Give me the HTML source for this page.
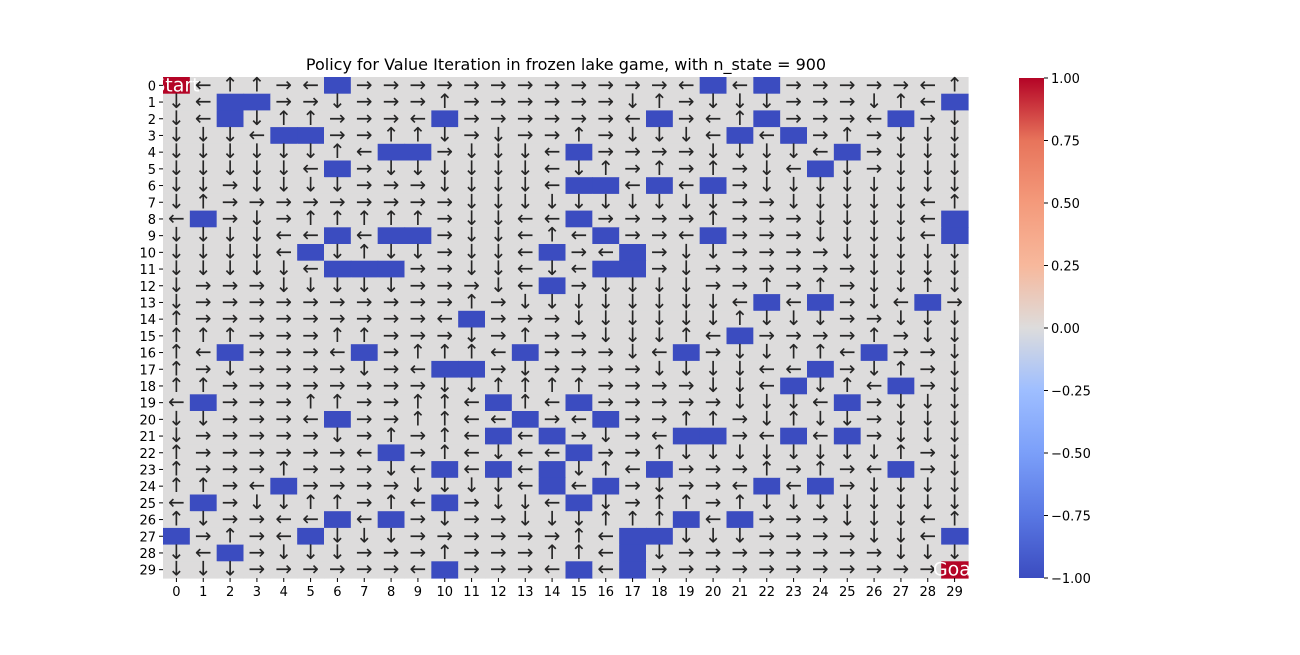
<!DOCTYPE html>
<html><head><meta charset="utf-8"><style>
body{margin:0;background:#fff;font-family:"Liberation Sans","DejaVu Sans",sans-serif;}
svg text{font-family:"DejaVu Sans","Liberation Sans",sans-serif;}
</style></head><body>
<svg id="chart" width="1300" height="650" xmlns="http://www.w3.org/2000/svg">
<defs><linearGradient id="cw" x1="0" y1="1" x2="0" y2="0">
<stop offset="0" stop-color="#3b4cc0"/><stop offset="0.125" stop-color="#5977e3"/><stop offset="0.25" stop-color="#7b9ff9"/><stop offset="0.375" stop-color="#9ebeff"/><stop offset="0.5" stop-color="#dddcdc"/><stop offset="0.625" stop-color="#f7b89c"/><stop offset="0.75" stop-color="#f49a7b"/><stop offset="0.875" stop-color="#e7745b"/><stop offset="1" stop-color="#b40426"/></linearGradient></defs>
<text x="566" y="70" font-size="16" text-anchor="middle" fill="#000">Policy for Value Iteration in frozen lake game, with n_state = 900</text>
<g id="cells"></g><g id="ticks"></g>
<rect x="1019" y="78" width="25" height="500" fill="url(#cw)"/>
<g id="cbticks"></g>
</svg>
<script>
const rows = [
"SLUURLHRRRRRRRRRRRRLHLHRRRRRLU",
"DLHHRRDRRRURRRRRRDURDDDRRRDULH",
"DLHDUURRRLHRRRRRRLHRLUHRRRLHRD",
"DDDLHHRRUUDRDRRURDDDLHLHRURDDD",
"DDDDDDULHHRDDDLHRRRRDDDDLHRDDD",
"DDDDDLHRDDDDDDLDURURURDLHDRDDD",
"DDRDDDDRRRDDDDLHHLHLHRDDDDDDDD",
"DURRRRRRRRRDDDDDDDDDDRRDDDDDLU",
"LHRDRUUUUURDDLLHRRRRURRRDDDDLH",
"DDDDLLHLHHRDDLULHRRLHRRRDDDDLH",
"DDDDLHDUDDRDDLHRLHRDDRRRRDDDDD",
"DDDDDLHHHRRDDLDLHHRDRRRRRRDDDD",
"DRRRDDDDDRRRDLHRDDDDRRURURDDUD",
"DRRRRRRRRRRURDDDDDDDDLHLHRDLHR",
"URRRRRRRRRLHRRRDDDDDDUDDDRRDDD",
"UUURRRUURRRDRURRDDDULHRRRRURDD",
"ULHRRRLHRUUULHRRRDLHRDDUULHRRD",
"URDRRRRDRLHHRDRRRRDDDDLLHRDURD",
"UURRRRRRRRDDUUUURRRRDDLHDULHRD",
"LHRRRUURRUULHULHRRRRRDDDLHRDDD",
"DDRRRLHRRUULLHRLHRRUURDUDDRDDD",
"DRRRRRDRURULHLHRDRLHHRLHLHRDDD",
"URRRRRRLHRULDLLHRRUDDDDDDDDURD",
"URRRURRRDLHLHLHDULHRRRURURLHRD",
"UURLHRRRRDDDDLHLHRDRRLHLHRDDDD",
"LHRDDUURULHRDDLHDRUURUDDDDDDDD",
"UDRRLLHLHRDRRDDDUUUHLHRRRDDDLU",
"HRURLHDDDRRRRRRULHHDDDRRRRDDLH",
"DLHRDDDRRRURRRUULHDRRRRRRRRDDD",
"DDDRRRRRRLHRRRLHLHRRRRRRRRRRRG"];
const xTicks=[...Array(30).keys()];
const cbTicks=[1.0,0.75,0.5,0.25,0,-0.25,-0.5,-0.75,-1.0];
const X0=163,Y0=77,W=805,H=501,n=30;
const cw=W/n,ch=H/n;
const xs=c=>X0+c*cw, ys=r=>Y0+r*ch;
const cbY=v=>78+(1-v)/2*500;
const NS="http://www.w3.org/2000/svg";
const g=document.getElementById('cells'),tg=document.getElementById('ticks'),cg=document.getElementById('cbticks');
function mk(t,a,p){const e=document.createElementNS(NS,t);for(const k in a)e.setAttribute(k,a[k]);p.appendChild(e);return e;}
const glyph={L:"←",R:"→",U:"↑",D:"↓"};
rows.forEach((row,r)=>{[...row].forEach((ch0,c)=>{
 let fill="#dddcdc";if(ch0==="H")fill="#3b4cc0";if(ch0==="S"||ch0==="G")fill="#b40426";
 const rc=mk('rect',{x:xs(c),y:ys(r),width:cw+0.6,height:ch+0.6,fill:fill},g);
 
 
});});
rows.forEach((row,r)=>{[...row].forEach((ch0,c)=>{
 const cx=xs(c)+cw/2,cy=ys(r)+ch/2;
 if(glyph[ch0]){const t=mk('text',{x:cx,y:cy+6,'font-size':20,'text-anchor':'middle',fill:'#262626'},g);t.textContent=glyph[ch0];
 
 }
 if(ch0==="S"||ch0==="G"){const t=mk('text',{x:cx,y:cy+6,'font-size':19,'text-anchor':'middle',fill:'#fff'},g);t.textContent=ch0==="S"?"Start":"Goal";
 
 }
});});
xTicks.forEach(i=>{
 mk('line',{x1:xs(i)+cw/2,x2:xs(i)+cw/2,y1:Y0+H,y2:Y0+H+4,stroke:'#000'},tg);
 const t=mk('text',{x:xs(i)+cw/2,y:Y0+H+18,'font-size':13,'text-anchor':'middle'},tg);t.textContent=i;
 
 
 mk('line',{x1:X0-4,x2:X0,y1:ys(i)+ch/2,y2:ys(i)+ch/2,stroke:'#000'},tg);
 const u=mk('text',{x:X0-7,y:ys(i)+ch/2+5,'font-size':13,'text-anchor':'end'},tg);u.textContent=i;
 
 
});
cbTicks.forEach(v=>{
 mk('line',{x1:1044,x2:1048,y1:cbY(v),y2:cbY(v),stroke:'#000'},cg);
 const t=mk('text',{x:1051,y:cbY(v)+5,'font-size':13},cg);t.textContent=v.toFixed(2).replace('-','\u2212');
 
 
});
</script>
</body></html>
